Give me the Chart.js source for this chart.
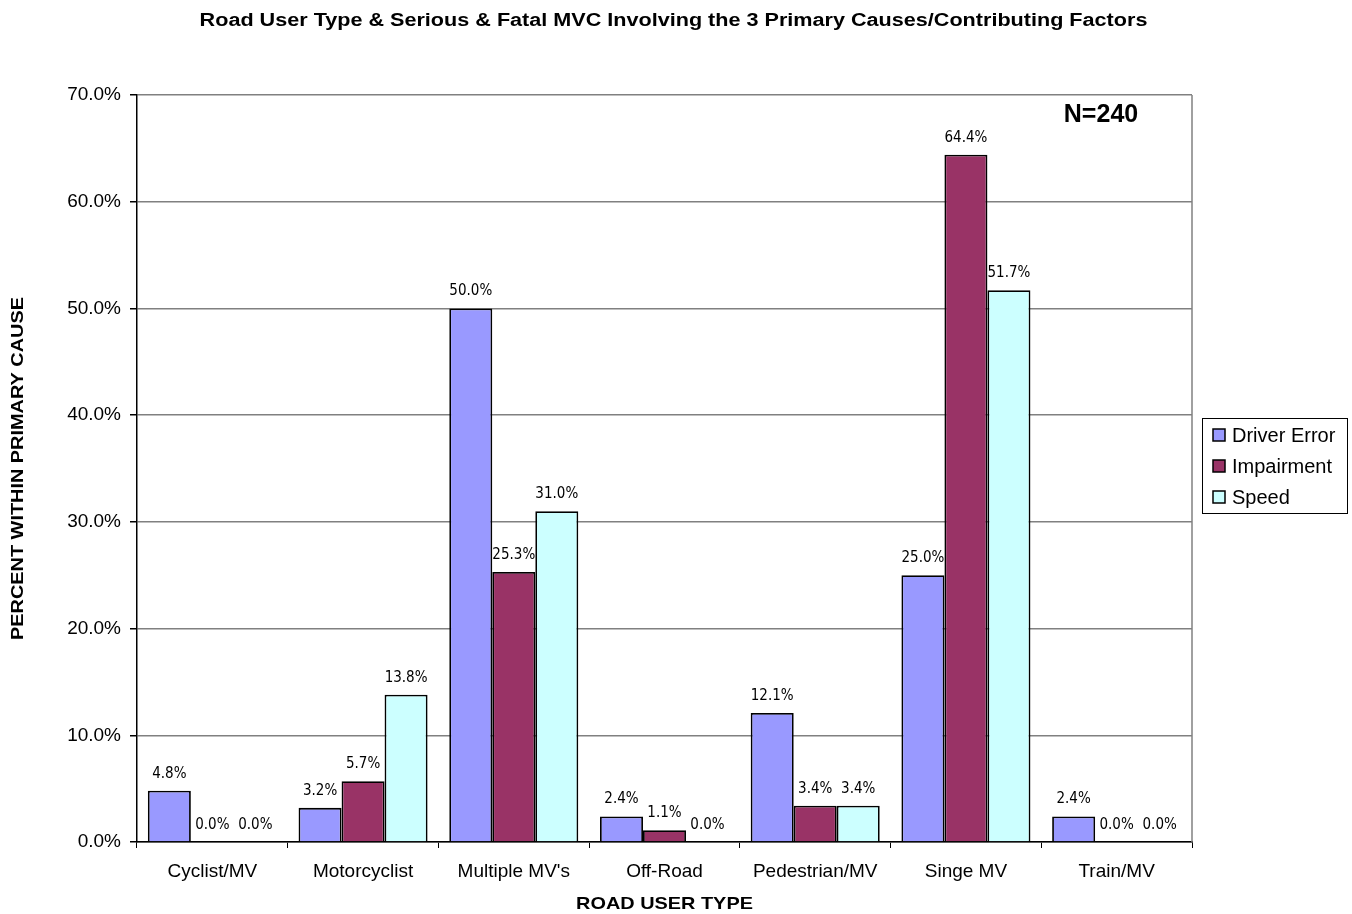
<!DOCTYPE html>
<html>
<head>
<meta charset="utf-8">
<title>Road User Type & Serious & Fatal MVC</title>
<script src="https://cdn.jsdelivr.net/npm/chart.js@4.4.1/dist/chart.umd.min.js"></script>
<style>
  html, body { margin: 0; padding: 0; background: #ffffff; }
  #wrap { width: 1352px; height: 914px; position: relative; }
</style>
</head>
<body>
<div id="wrap"><canvas id="chart" width="1352" height="914"></canvas></div>
<script>
// Road user categories
const categories = ["Cyclist/MV", "Motorcyclist", "Multiple MV's", "Off-Road", "Pedestrian/MV", "Singe MV", "Train/MV"];

// Percent within each primary cause
const driverError = [4.8, 3.2, 50.0, 2.4, 12.1, 25.0, 2.4];
const impairment  = [0.0, 5.7, 25.3, 1.1, 3.4, 64.4, 0.0];
const speed       = [0.0, 13.8, 31.0, 0.0, 3.4, 51.7, 0.0];

const seriesNames = ["Driver Error", "Impairment", "Speed"];
const yTicks = [0, 10, 20, 30, 40, 50, 60, 70];
const chartTitle = "Road User Type & Serious & Fatal MVC Involving the 3 Primary Causes/Contributing Factors";
const xTitle = "ROAD USER TYPE";
const yTitle = "PERCENT WITHIN PRIMARY CAUSE";
const sampleNote = "N=240";

const FONT = "Arial, 'Liberation Sans', sans-serif";
const NARROW = "'Liberation Sans Narrow', 'Arial Narrow', 'DejaVu Sans Condensed', Arial, sans-serif";

// Text drawn with a slight horizontal stretch (wide headings)
function wideText(ctx, text, x, y, font, sx, rotate) {
  ctx.save();
  ctx.translate(x, y);
  if (rotate) ctx.rotate(-Math.PI / 2);
  ctx.scale(sx, 1);
  ctx.font = font;
  ctx.fillStyle = "#000";
  ctx.textAlign = "center";
  ctx.textBaseline = "middle";
  ctx.fillText(text, 0, 0);
  ctx.restore();
}

// Value labels above each bar
const valueLabels = {
  id: 'valueLabels',
  afterDatasetsDraw(chart) {
    const ctx = chart.ctx;
    ctx.save();
    ctx.font = "15px " + NARROW;
    ctx.fillStyle = "#000";
    ctx.textAlign = "center";
    ctx.textBaseline = "alphabetic";
    chart.data.datasets.forEach((ds, i) => {
      const meta = chart.getDatasetMeta(i);
      meta.data.forEach((bar, j) => {
        const v = ds.data[j];
        ctx.fillText(v.toFixed(1) + "%", bar.x, bar.y - 13);
      });
    });
    ctx.restore();
  }
};

// Titles, plot frame on the right, sample size note and boxed legend
const extras = {
  id: 'extras',
  afterDraw(chart) {
    const ctx = chart.ctx;
    const a = chart.chartArea;

    wideText(ctx, chartTitle, 673.5, 21.5, "bold 18px " + FONT, 1.2, false);
    wideText(ctx, xTitle, (a.left + a.right) / 2, 904, "bold 17px " + FONT, 1.17, false);
    wideText(ctx, yTitle, 18, (a.top + a.bottom) / 2, "bold 17px " + FONT, 1.17, true);

    ctx.save();
    ctx.strokeStyle = "#808080";
    ctx.lineWidth = 1.5;
    ctx.beginPath();
    ctx.moveTo(a.right, a.top);
    ctx.lineTo(a.right, a.bottom);
    ctx.stroke();

    ctx.font = "bold 25px " + FONT;
    ctx.fillStyle = "#000";
    ctx.textAlign = "center";
    ctx.textBaseline = "middle";
    ctx.fillText(sampleNote, 1101, 115);

    // legend
    const lx = 1202, ly = 418, lw = 145, lh = 95;
    ctx.strokeStyle = "#000";
    ctx.lineWidth = 1;
    ctx.strokeRect(lx + 0.5, ly + 0.5, lw, lh);
    ctx.font = "20px " + FONT;
    ctx.textAlign = "left";
    chart.data.datasets.forEach((ds, i) => {
      const cy = 435 + i * 31;
      ctx.fillStyle = ds.backgroundColor;
      ctx.fillRect(1213, cy - 6, 12, 12);
      ctx.strokeStyle = "#000";
      ctx.lineWidth = 1.5;
      ctx.strokeRect(1213, cy - 6, 12, 12);
      ctx.fillStyle = "#000";
      ctx.fillText(ds.label, 1232, cy + 1);
    });
    ctx.restore();
  }
};

new Chart(document.getElementById('chart'), {
  type: 'bar',
  data: {
    labels: categories,
    datasets: [
      { label: seriesNames[0], data: driverError, backgroundColor: '#9999FF', borderColor: '#000', borderWidth: 1.8 },
      { label: seriesNames[1], data: impairment,  backgroundColor: '#993366', borderColor: '#000', borderWidth: 1.8 },
      { label: seriesNames[2], data: speed,       backgroundColor: '#CCFFFF', borderColor: '#000', borderWidth: 1.8 }
    ]
  },
  options: {
    responsive: false,
    animation: false,
    layout: { padding: { left: 0, right: 160, top: 95, bottom: 0 } },
    datasets: { bar: { categoryPercentage: 0.856, barPercentage: 1.0 } },
    plugins: {
      legend: { display: false },
      tooltip: { enabled: false },
      title: { display: false }
    },
    scales: {
      x: {
        afterFit(scale) { scale.height = 72; },
        grid: { display: true, drawOnChartArea: false, offset: true, tickLength: 6, tickColor: '#000', lineWidth: 1 },
        border: { color: '#000', width: 1.5 },
        ticks: { color: '#000', font: { family: FONT, size: 19 }, padding: 12.5, maxRotation: 0 }
      },
      y: {
        min: 0, max: 70,
        afterFit(scale) { scale.width = 137; },
        afterBuildTicks(scale) { scale.ticks = yTicks.map(v => ({ value: v })); },
        grid: { color: '#808080', lineWidth: 1.5, tickLength: 7, tickColor: '#000' },
        border: { color: '#000', width: 1.5 },
        ticks: {
          color: '#000', font: { family: FONT, size: 19 }, padding: 9,
          callback: v => v.toFixed(1) + '%'
        }
      }
    }
  },
  plugins: [valueLabels, extras]
});
</script>
</body>
</html>
